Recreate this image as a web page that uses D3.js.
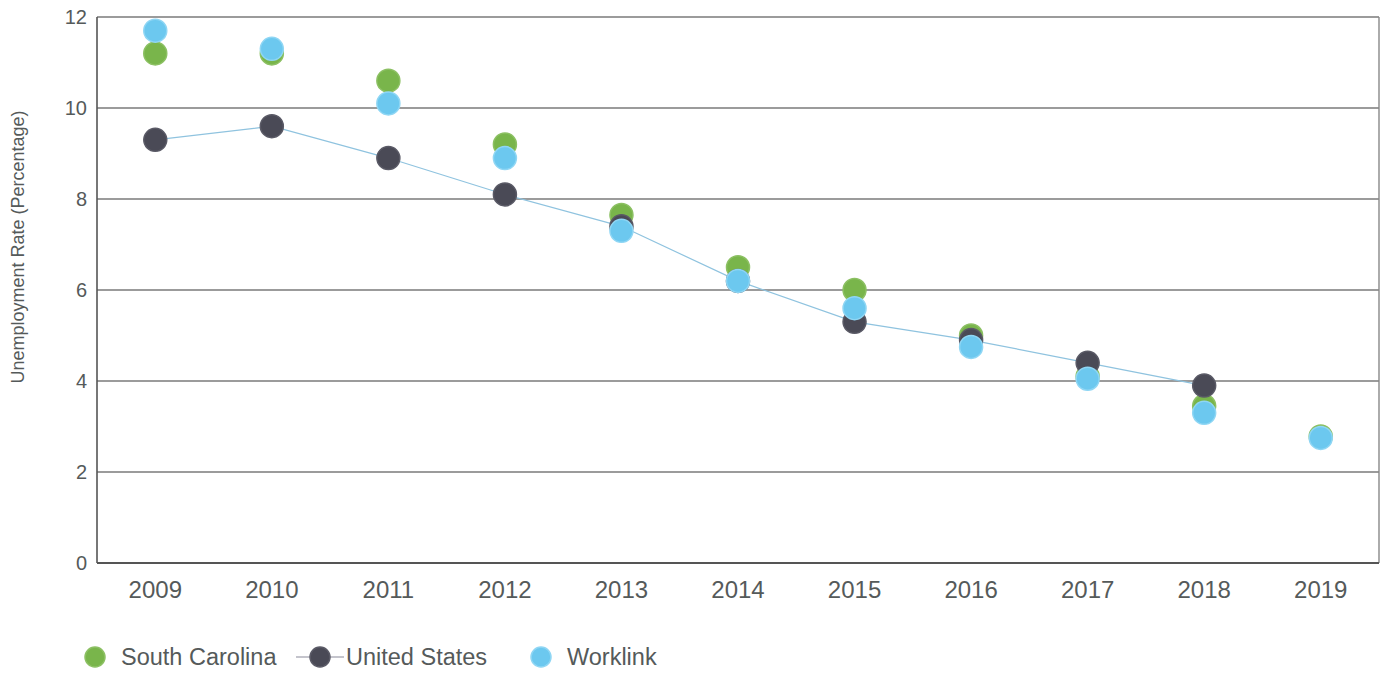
<!DOCTYPE html>
<html>
<head>
<meta charset="utf-8">
<script src="https://cdn.jsdelivr.net/npm/d3@7"></script>
<style>
  html, body { margin: 0; padding: 0; background: #fff; }
  svg { display: block; font-family: "Liberation Sans", Arial, sans-serif; }
</style>
</head>
<body>
<svg id="chart" width="1384" height="673"></svg>
<script>
const years = ["2009","2010","2011","2012","2013","2014","2015","2016","2017","2018","2019"];
const southCarolina = [11.2, 11.2, 10.6, 9.2, 7.65, 6.5, 6.0, 5.0, 4.1, 3.45, 2.78];
const unitedStates  = [9.3, 9.6, 8.9, 8.1, 7.4, 6.2, 5.3, 4.9, 4.4, 3.9, null];
const worklink      = [11.7, 11.3, 10.1, 8.9, 7.3, 6.2, 5.6, 4.75, 4.05, 3.3, 2.75];
const yTicks = [0, 2, 4, 6, 8, 10, 12];
const seriesNames = ["South Carolina", "United States", "Worklink"];

const svg = d3.select("#chart");
const plotLeft = 97, plotRight = 1379, plotTop = 17, plotBottom = 563;
const x = d3.scaleBand().domain(years).range([plotLeft, plotRight]);
const y = d3.scaleLinear().domain([0, 12]).range([plotBottom, plotTop]);

const textColor = "#555a5a";
const gridColor = "#7a7a7a";

// gridlines
svg.append("g").selectAll("line").data(yTicks.filter(d => d > 0)).join("line")
  .attr("x1", plotLeft).attr("x2", plotRight)
  .attr("y1", d => y(d)).attr("y2", d => y(d))
  .attr("stroke", gridColor).attr("stroke-width", 1.4);

// frame: left & right borders, bottom axis
svg.append("line").attr("x1", plotLeft).attr("x2", plotLeft).attr("y1", plotTop).attr("y2", plotBottom)
  .attr("stroke", "#555").attr("stroke-width", 1.6);
svg.append("line").attr("x1", plotRight).attr("x2", plotRight).attr("y1", plotTop).attr("y2", plotBottom)
  .attr("stroke", "#888").attr("stroke-width", 1.4);
svg.append("line").attr("x1", plotLeft).attr("x2", plotRight).attr("y1", plotBottom).attr("y2", plotBottom)
  .attr("stroke", "#555").attr("stroke-width", 1.8);

// y tick labels
const yAxis = d3.axisLeft(y).tickValues(yTicks).tickSize(0).tickPadding(10);
const ya = svg.append("g").attr("transform", `translate(${plotLeft},0)`).call(yAxis);
ya.select(".domain").remove();
ya.selectAll("text").attr("font-size", 20).attr("fill", textColor)
  .attr("font-family", "Liberation Sans, Arial, sans-serif");

// x tick labels
const xAxis = d3.axisBottom(x).tickSize(0).tickPadding(18);
const xa = svg.append("g").attr("transform", `translate(0,${plotBottom})`).call(xAxis);
xa.select(".domain").remove();
xa.selectAll("text").attr("font-size", 24).attr("fill", textColor)
  .attr("font-family", "Liberation Sans, Arial, sans-serif");

// y axis title
svg.append("text")
  .attr("transform", `translate(24,247) rotate(-90)`)
  .attr("text-anchor", "middle")
  .attr("font-size", 18).attr("fill", textColor)
  .text("Unemployment Rate (Percentage)");

const cx = i => x(years[i]) + x.bandwidth() / 2;
const r = 11.5;

const styles = {
  "South Carolina": { fill: "#79b54b", stroke: "#8cc063" },
  "United States": { fill: "#4a4a56", stroke: "#5a5a66" },
  "Worklink": { fill: "#6cc8ef", stroke: "#8fd6f4" }
};

// US connecting line
const usPts = unitedStates.map((v, i) => [i, v]).filter(d => d[1] !== null);
svg.append("path")
  .datum(usPts)
  .attr("d", d3.line().x(d => cx(d[0])).y(d => y(d[1])))
  .attr("fill", "none").attr("stroke", "#8fc3df").attr("stroke-width", 1.2);

function drawDots(values, name) {
  const s = styles[name];
  svg.append("g").selectAll("circle")
    .data(values.map((v, i) => [i, v]).filter(d => d[1] !== null))
    .join("circle")
    .attr("cx", d => cx(d[0])).attr("cy", d => y(d[1])).attr("r", r)
    .attr("fill", s.fill).attr("stroke", s.stroke).attr("stroke-width", 1.5);
}
drawDots(southCarolina, "South Carolina");
drawDots(unitedStates, "United States");
drawDots(worklink, "Worklink");

// legend
const legendY = 657;
const legendItems = [
  { name: "South Carolina", cx: 95, tx: 121 },
  { name: "United States", cx: 320, tx: 346 },
  { name: "Worklink", cx: 541, tx: 567 }
];
svg.append("line").attr("x1", 296).attr("x2", 344).attr("y1", legendY).attr("y2", legendY)
  .attr("stroke", "#8a8a9a").attr("stroke-width", 1.2);
const lg = svg.append("g").selectAll("g").data(legendItems).join("g");
lg.append("circle").attr("cx", d => d.cx).attr("cy", legendY).attr("r", 10)
  .attr("fill", d => styles[d.name].fill).attr("stroke", d => styles[d.name].stroke).attr("stroke-width", 1.5);
lg.append("text").attr("x", d => d.tx).attr("y", legendY + 8)
  .attr("font-size", 23.5).attr("fill", textColor).text(d => d.name);
</script>
</body>
</html>
